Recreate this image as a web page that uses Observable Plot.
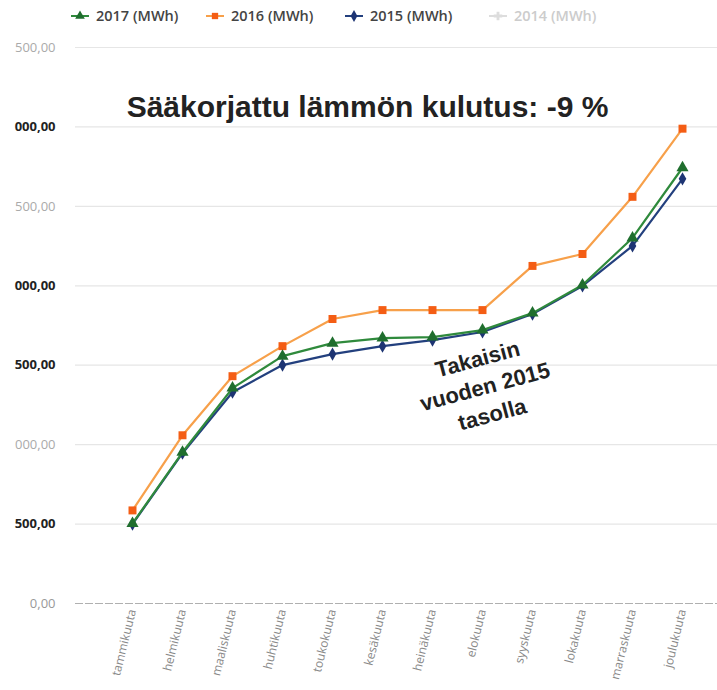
<!DOCTYPE html>
<html><head><meta charset="utf-8">
<script src="https://cdn.jsdelivr.net/npm/d3@7"></script>
<script src="https://cdn.jsdelivr.net/npm/@observablehq/plot@0.6"></script>
<style>
body{margin:0;background:#fff;width:717px;height:690px;overflow:hidden;font-family:"Open Sans",sans-serif}
#legend{height:35px;position:relative}
.item{position:absolute;top:6px;font-size:14.5px;font-weight:600;color:#444;display:flex;align-items:center;white-space:nowrap}
.item svg{margin-right:6px}
</style></head><body><div id="legend"></div><div id="chart"></div>
<script>
const months = ["tammikuuta","helmikuuta","maaliskuuta","huhtikuuta","toukokuuta","kesäkuuta","heinäkuuta","elokuuta","syyskuuta","lokakuuta","marraskuuta","joulukuuta"];
const v2017 = [504, 952, 1356, 1557, 1639, 1671, 1677, 1721, 1828, 2005, 2301, 2743];
const v2016 = [586, 1059, 1431, 1620, 1791, 1847, 1847, 1847, 2125, 2200, 2560, 2989];
const v2015 = [500, 946, 1330, 1501, 1570, 1620, 1658, 1709, 1822, 1999, 2251, 2673];
const seriesNames = ["2017 (MWh)", "2016 (MWh)", "2015 (MWh)", "2014 (MWh)"];
const seriesSymbols = ["triangle", "square", "diamond", "plus"];
const yTicks = [0, 500, 1000, 1500, 2000, 2500, 3000, 3500];
const yTickLabels = ["0,00", "500,00", "000,00", "500,00", "000,00", "500,00", "000,00", "500,00"];
const titleText = "Sääkorjattu lämmön kulutus: -9 %";
const annotations = [{month: "elokuuta", value: 1375, text: "Takaisin\nvuoden 2015\ntasolla"}];

// styles
const lineColors = ["#2f8a3c", "#f7a04a", "#23407e", "#dddddd"];
const markColors = ["#1f6e2e", "#f45d14", "#1d3473", "#dddddd"];
const textColors = ["#444", "#444", "#444", "#ccc"];
const yTickColors = ["#999", "#222", "#aaa", "#222", "#222", "#aaa", "#222", "#aaa"];
const yTickWeights = [400, 700, 400, 700, 700, 400, 700, 400];

// legend
const legend = document.getElementById("legend");
const lefts = [70, 205, 344, 488];
seriesNames.forEach((name, i) => {
  const div = document.createElement("div");
  div.className = "item";
  div.style.left = lefts[i] + "px";
  div.style.color = textColors[i];
  const s = d3.create("svg").attr("width", 20).attr("height", 12);
  s.append("line").attr("x1", 1).attr("x2", 19).attr("y1", 6).attr("y2", 6).attr("stroke", lineColors[i]).attr("stroke-width", 2);
  s.append("path").attr("transform", "translate(10,6)").attr("d", d3.symbol(
    [d3.symbolTriangle, d3.symbolSquare, d3.symbolDiamond, d3.symbolCross][i], 40)()).attr("fill", markColors[i]);
  div.appendChild(s.node());
  div.appendChild(document.createTextNode(name));
  legend.appendChild(div);
});

const rows = vals => months.map((m, i) => ({month: m, value: vals[i]}));
const yRows = yTicks.map((t, i) => ({value: t, label: yTickLabels[i], color: yTickColors[i], weight: yTickWeights[i]}));

const seriesMarks = (vals, i, r) => [
  Plot.line(rows(vals), {x: "month", y: "value", stroke: lineColors[i], strokeWidth: 2.2}),
  Plot.dot(rows(vals), {x: "month", y: "value", symbol: seriesSymbols[i], fill: markColors[i], r: r})
];

const chart = Plot.plot({
  width: 717, height: 655,
  marginLeft: 75, marginRight: 0, marginTop: 12, marginBottom: 87,
  style: {fontFamily: "'Open Sans', sans-serif", background: "#fff", overflow: "visible"},
  x: {type: "point", domain: months, range: [103, 710], label: null},
  y: {domain: [0, 3500], label: null, axis: null},
  marks: [
    Plot.ruleY(yTicks.filter(d => d > 0), {stroke: "#e6e6e6", strokeWidth: 1.2}),
    Plot.ruleY([0], {stroke: "#b0b0b0", strokeDasharray: "8,2", strokeWidth: 1.2}),
    ...[400, 700].map(w => Plot.text(yRows.filter(d => d.weight === w), {y: "value", text: "label", frameAnchor: "left", textAnchor: "end", dx: -20, fontSize: 13, fontWeight: w, fill: "color"})),
    Plot.axisX({tickSize: 0, tickRotate: -76, tickPadding: 6, fontSize: 12, fill: "#888"}),
    ...seriesMarks(v2015, 2, 4),
    ...seriesMarks(v2016, 1, 4.5),
    ...seriesMarks(v2017, 0, 4.5),
    Plot.text([titleText], {frameAnchor: "top", dx: -29, dy: 60, lineAnchor: "middle", fontSize: 30, fontWeight: "bold", fontFamily: "'Liberation Sans', Arial, sans-serif", fill: "#222"}),
    Plot.text(annotations, {x: "month", y: "value", text: "text", dx: 2, rotate: -15, fontSize: 22, fontWeight: "bold", lineHeight: 1.3, fontFamily: "'Liberation Sans', Arial, sans-serif", fill: "#222"})
  ]
});
document.getElementById("chart").appendChild(chart);
</script></body></html>
